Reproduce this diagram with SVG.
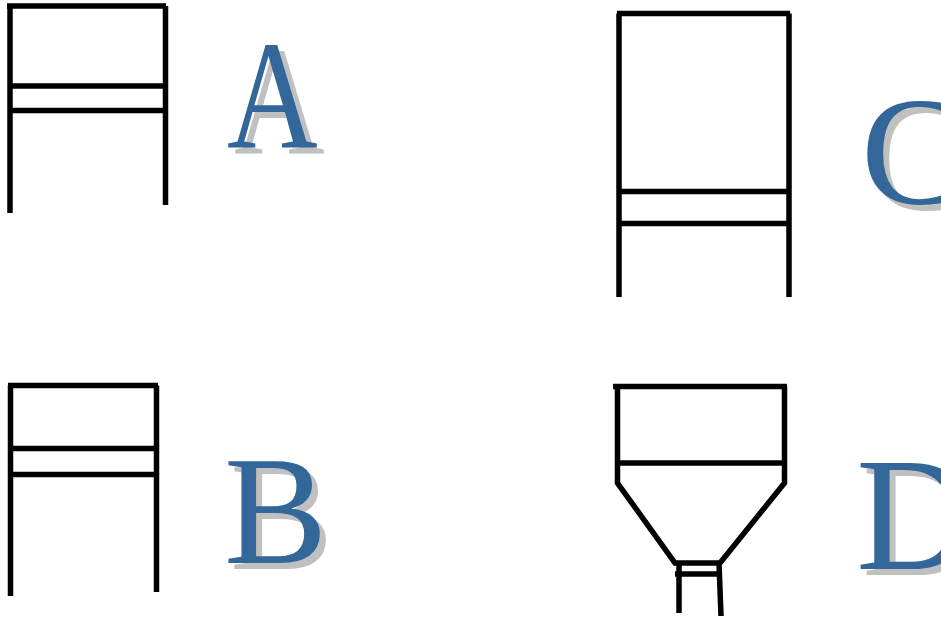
<svg xmlns="http://www.w3.org/2000/svg" width="941" height="618" viewBox="0 0 941 618">
<style>
.ln{fill:none;stroke:#000;stroke-width:5.5;stroke-linecap:butt;stroke-linejoin:miter}
.lbl{font-family:"Liberation Serif","Times New Roman",serif;font-size:155px}
.sh{fill:#c0c0c0}
.fg{fill:#336699}
</style>
<rect width="941" height="618" fill="#fff"/>
<g id="A">
<path class="ln" d="M7,6 H166 M10,6 V213 M165.5,6 V205 M10,86 H165.5 M10,110.5 H165.5"/>
<text class="lbl sh" transform="translate(234,153) scale(0.81,1)" x="0" y="0">A</text>
<text class="lbl fg" transform="translate(227,147) scale(0.81,1)" x="0" y="0">A</text>
</g>
<g id="B">
<path class="ln" d="M8,385.5 H158 M10.5,385.5 V596 M156.5,385.5 V592 M10.5,448.5 H156.5 M10.5,474.5 H156.5"/>
<text class="lbl sh" x="230" y="569">B</text>
<text class="lbl fg" x="224" y="563">B</text>
</g>
<g id="C">
<path class="ln" d="M617,13.5 H790 M619,13.5 V297 M789,13.5 V297 M619,191.5 H789 M619,223.5 H789"/>
<text class="lbl sh" x="867" y="209">C</text>
<text class="lbl fg" x="861" y="203">C</text>
</g>
<g id="D">
<path class="ln" d="M613,386.5 H787 M617.5,386.5 V483 L675,563 H720 L784.5,483 V386.5 M617.5,463 H784.5 M675,574 H720 M679,563 V613 M719,563 L721,616"/>
<text class="lbl sh" x="862" y="575" style="font-size:162px">D</text>
<text class="lbl fg" x="856" y="569" style="font-size:162px">D</text>
</g>
</svg>
